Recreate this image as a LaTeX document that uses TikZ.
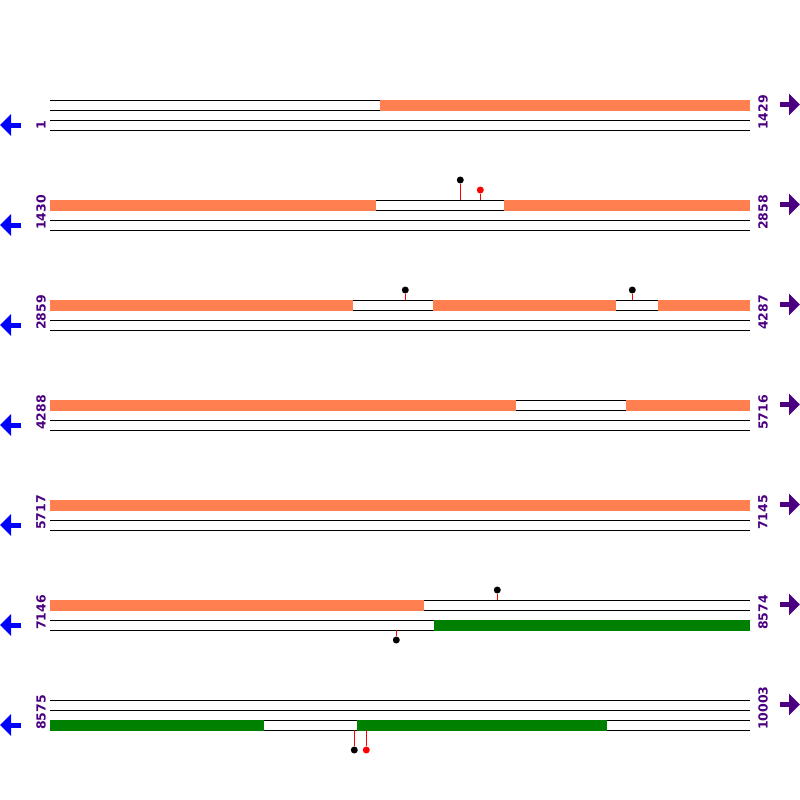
\documentclass[tikz,border=0pt]{standalone}
\usepackage{fontspec}
\setmainfont{DejaVu Sans}
\usepackage{tikz}
\usetikzlibrary{arrows.meta}
\definecolor{barorange}{HTML}{FF7F50}
\definecolor{bargreen}{HTML}{008000}
\definecolor{labelpurple}{HTML}{4B0082}

\begin{document}
\begin{tikzpicture}[x=1pt, y=-1pt,
    track_line/.style={line width=1pt},
    orange_bar/.style={fill=barorange},
    green_bar/.style={fill=bargreen},
    pos_label/.style={rotate=90, anchor=west, inner sep=0pt, text=labelpurple, font=\fontsize{12.5}{14}\selectfont\bfseries},
    ball/.style={circle, fill=black, inner sep=0pt, minimum size=7pt},
    stem/.style={red, line width=1pt},
    back_arrow/.style={blue, line width=5pt, -{Triangle[length=11pt, width=21pt]}},
    fwd_arrow/.style={labelpurple, line width=5pt, -{Triangle[length=11pt, width=21pt]}}]

    \useasboundingbox (0,0) rectangle (800,800);

    % tracks, labels and arrows of each row
    \foreach \y/\first/\last [count=\i] in {100/1/1429, 200/1430/2858, 300/2859/4287,
        400/4288/5716, 500/5717/7145, 600/7146/8574, 700/8575/10003} {
        \foreach \d in {0,10,20,30}
            \draw[track_line] (50,\y+\d) -- (750,\y+\d);
        \node[pos_label] (l\i) at (41,\y+30) {\first};
        \node[pos_label] (r\i) at (763,\y+30) {\last};
        \draw[back_arrow] (21,\y+25) -- (0,\y+25);
        \draw[fwd_arrow] (780,\y+4.5) -- (800,\y+4.5);
    }

    % coloured segments
    \fill[orange_bar] (380,99.5) rectangle (750,110.5);
    \fill[orange_bar] (50,199.5) rectangle (376,210.5);
    \fill[orange_bar] (504,199.5) rectangle (750,210.5);
    \fill[orange_bar] (50,299.5) rectangle (353,310.5);
    \fill[orange_bar] (433,299.5) rectangle (616,310.5);
    \fill[orange_bar] (658,299.5) rectangle (750,310.5);
    \fill[orange_bar] (50,399.5) rectangle (516,410.5);
    \fill[orange_bar] (626,399.5) rectangle (750,410.5);
    \fill[orange_bar] (50,499.5) rectangle (750,510.5);
    \fill[orange_bar] (50,599.5) rectangle (424,610.5);
    \fill[green_bar] (434,619.5) rectangle (750,630.5);
    \fill[green_bar] (50,719.5) rectangle (264,730.5);
    \fill[green_bar] (357,719.5) rectangle (607,730.5);

    % markers
    \node[ball] (m1) at (460.3,180) {};
    \node[ball, fill=red] (m2) at (480.3,190) {};
    \node[ball] (m3) at (405.3,290) {};
    \node[ball] (m4) at (632.3,290) {};
    \node[ball] (m5) at (497.3,590) {};
    \node[ball] (m6) at (396.3,640) {};
    \node[ball] (m7) at (354.3,750) {};
    \node[ball, fill=red] (m8) at (366.3,750) {};
    \coordinate (s1) at (460.3,200);
    \coordinate (s2) at (480.3,200);
    \coordinate (s3) at (405.3,300);
    \coordinate (s4) at (632.3,300);
    \coordinate (s5) at (497.3,600);
    \coordinate (s6) at (396.3,630);
    \coordinate (s7) at (354.3,730);
    \coordinate (s8) at (366.3,730);
    \foreach \k in {1,...,8}
        \draw[stem] (s\k) -- (m\k);
\end{tikzpicture}
\end{document}
